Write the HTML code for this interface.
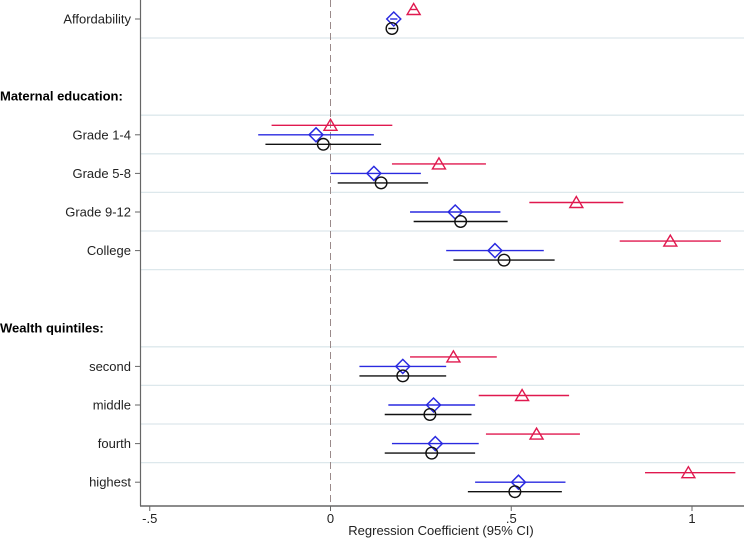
<!DOCTYPE html>
<html><head><meta charset="utf-8"><style>
html,body{margin:0;padding:0;background:#fff;}
svg{display:block;font-family:"Liberation Sans",Arial,sans-serif;}
</style></head><body>
<svg id="chart" width="744" height="539" viewBox="0 0 744 539" xmlns="http://www.w3.org/2000/svg">
<rect width="744" height="539" fill="#fff"/>
<g id="grid"></g><g id="marks"></g><g id="axes"></g>
</svg>
<script>
const rowLabels = ["Affordability","","Maternal education:","Grade 1-4","Grade 5-8","Grade 9-12","College","","Wealth quintiles:","second","middle","fourth","highest"];
const rowIsHeader = [false,false,true,false,false,false,false,false,true,false,false,false,false];
const rowHasData = [true,false,false,true,true,true,true,false,false,true,true,true,true];
const redCoef = [0.23,0,0.30,0.68,0.94,0.34,0.53,0.57,0.99];
const redLo   = [0.22,-0.163,0.17,0.55,0.80,0.22,0.41,0.43,0.87];
const redHi   = [0.24,0.171,0.43,0.81,1.08,0.46,0.66,0.69,1.12];
const blueCoef = [0.175,-0.04,0.12,0.345,0.455,0.20,0.285,0.29,0.52];
const blueLo   = [0.165,-0.20,0.0,0.22,0.32,0.08,0.16,0.17,0.40];
const blueHi   = [0.185,0.12,0.25,0.47,0.59,0.32,0.40,0.41,0.65];
const blackCoef = [0.17,-0.02,0.14,0.36,0.48,0.20,0.275,0.28,0.51];
const blackLo   = [0.16,-0.18,0.02,0.23,0.34,0.08,0.15,0.15,0.38];
const blackHi   = [0.18,0.14,0.27,0.49,0.62,0.32,0.39,0.40,0.64];
const xTicks = [-0.5,0,0.5,1];
const xTickLabels = ["-.5","0",".5","1"];

const NS="http://www.w3.org/2000/svg";
const x = v => 330.5 + v*361.5;
const y = i => 19 + i*38.6;
function mk(tag, attrs, parent){const e=document.createElementNS(NS,tag);for(const k in attrs)e.setAttribute(k,attrs[k]);parent.appendChild(e);return e;}
const grid=document.getElementById('grid'), marks=document.getElementById('marks'), axes=document.getElementById('axes');

for(let i=0;i<rowLabels.length-1;i++){
  if(rowHasData[i]||rowIsHeader[i]){
    const l=mk('line',{x1:141,x2:744,y1:y(i)+19,y2:y(i)+19,stroke:'#dde8ec','stroke-width':1.3},grid);
    
    
  }
}
const zl=mk('line',{x1:x(0),x2:x(0),y1:0,y2:506,stroke:'#9a8a8a','stroke-width':1,'stroke-dasharray':'7,4'},grid);



const ya=mk('line',{x1:140.5,x2:140.5,y1:0,y2:506,stroke:'#666','stroke-width':1.2},axes);


const xa=mk('line',{x1:140,x2:744,y1:506,y2:506,stroke:'#666','stroke-width':1.5},axes);


for(let k=0;k<xTicks.length;k++){
  mk('line',{x1:x(xTicks[k]),x2:x(xTicks[k]),y1:506,y2:511,stroke:'#666','stroke-width':1},axes);
  const t=mk('text',{x:x(xTicks[k]),y:523,'font-size':13,'text-anchor':'middle',fill:'#222'},axes);
  t.textContent=xTickLabels[k];
  
  
}
const xt=mk('text',{x:441,y:535,'font-size':13,'text-anchor':'middle',fill:'#222'},axes);
xt.textContent='Regression Coefficient (95% CI)';



for(let i=0;i<rowLabels.length;i++){
  if(!rowLabels[i]) continue;
  if(rowIsHeader[i]){
    const t=mk('text',{x:0,y:y(i)+4.5,'font-size':13,'font-weight':'bold',fill:'#000'},axes);
    t.textContent=rowLabels[i];
    
    
  } else {
    mk('line',{x1:135,x2:140,y1:y(i),y2:y(i),stroke:'#666','stroke-width':1},axes);
    const t=mk('text',{x:131,y:y(i)+4.5,'font-size':13,'text-anchor':'end',fill:'#222'},axes);
    t.textContent=rowLabels[i];
    
    
  }
}

const dataRows=[];
for(let i=0;i<rowLabels.length;i++) if(rowHasData[i]) dataRows.push(i);
function drawSeries(coef,lo,hi,color,off,shape,name){
  for(let j=0;j<coef.length;j++){
    const cy=y(dataRows[j])+off, cx=x(coef[j]);
    const l=mk('line',{x1:x(lo[j]),x2:x(hi[j]),y1:cy,y2:cy,stroke:color,'stroke-width':1.4},marks);
    
    
    let m;
    if(shape==='tri') m=mk('polygon',{points:`${cx},${cy-6} ${cx-6.5},${cy+5} ${cx+6.5},${cy+5}`,fill:'none',stroke:color,'stroke-width':1.4},marks);
    else if(shape==='dia') m=mk('polygon',{points:`${cx},${cy-7} ${cx+7},${cy} ${cx},${cy+7} ${cx-7},${cy}`,fill:'none',stroke:color,'stroke-width':1.5},marks);
    else m=mk('circle',{cx:cx,cy:cy,r:5.8,fill:'none',stroke:color,'stroke-width':1.4},marks);
    
    
  }
}
drawSeries(redCoef,redLo,redHi,'#e0194f',-9.5,'tri','red-series');
drawSeries(blueCoef,blueLo,blueHi,'#2a2ae0',0,'dia','blue-series');
drawSeries(blackCoef,blackLo,blackHi,'#111',9.5,'circ','black-series');
</script>
</body></html>
